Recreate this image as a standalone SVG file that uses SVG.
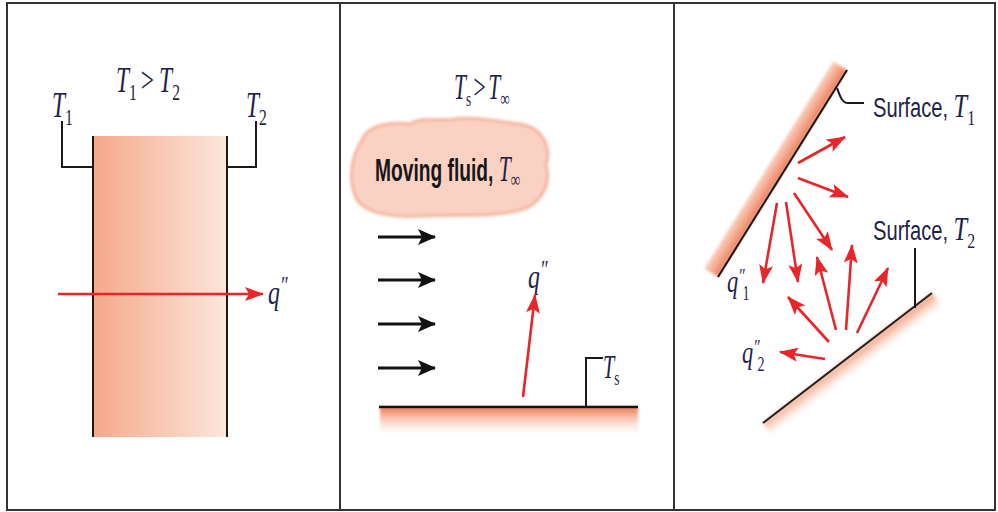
<svg xmlns="http://www.w3.org/2000/svg" width="998" height="512" viewBox="0 0 998 512">
<style>
.frame{fill:none;stroke:#333;stroke-width:2}
.blk{fill:none;stroke:#1a1a1a;stroke-width:2}
.red{fill:none;stroke:#E8262A;stroke-width:2.6}
.flow{fill:none;stroke:#111;stroke-width:3}
.lbl{font-family:"Liberation Serif",serif;font-style:italic;fill:#1f2347}
.sans{font-family:"Liberation Sans",Arial,sans-serif;fill:#1f2347}
.bold{font-family:"Liberation Sans",Arial,sans-serif;font-weight:bold;fill:#161616}
.sub{font-style:normal}
</style>
<defs>
<linearGradient id="slab" x1="0" y1="0" x2="1" y2="0">
<stop offset="0" stop-color="#F6A88A"/>
<stop offset="1" stop-color="#FBE7DC"/>
</linearGradient>
<linearGradient id="floor" x1="0" y1="0" x2="0" y2="1">
<stop offset="0" stop-color="#EF7447"/>
<stop offset="1" stop-color="#FBD9CC" stop-opacity="0"/>
</linearGradient>
<linearGradient id="up" gradientUnits="userSpaceOnUse" x1="782.5" y1="173.5" x2="767.2" y2="164">
<stop offset="0" stop-color="#EE7A55"/>
<stop offset="1" stop-color="#F8B9A2" stop-opacity="0.6"/>
</linearGradient>
<linearGradient id="low" gradientUnits="userSpaceOnUse" x1="847.5" y1="358" x2="858" y2="372">
<stop offset="0" stop-color="#F39A78"/>
<stop offset="1" stop-color="#FCDCCF" stop-opacity="0"/>
</linearGradient>
<filter id="soft" x="-10%" y="-10%" width="120%" height="120%"><feGaussianBlur stdDeviation="1.5"/></filter>
<filter id="soft2" x="-10%" y="-10%" width="120%" height="120%"><feGaussianBlur stdDeviation="2"/></filter>
<marker id="rh" markerUnits="userSpaceOnUse" markerWidth="20" markerHeight="16" refX="18" refY="7" orient="auto">
<path d="M0,0 L19,7 L0,14 L4,7 Z" fill="#E8262A"/>
</marker>
<marker id="bh" markerUnits="userSpaceOnUse" markerWidth="20" markerHeight="18" refX="17" refY="8" orient="auto">
<path d="M0,0 L18,8 L0,16 L4,8 Z" fill="#111"/>
</marker>
</defs>
<rect width="998" height="512" fill="#fff"/>
<g id="frame">
<rect class="frame" x="7" y="3" width="988" height="507"/>
<line class="frame" x1="340" y1="3" x2="340" y2="510"/>
<line class="frame" x1="674" y1="3" x2="674" y2="510"/>
</g>

<!-- Panel 1: conduction -->
<g id="slab">
<rect x="93" y="136" width="134" height="301" fill="url(#slab)"/>
<line class="blk" x1="93" y1="136" x2="93" y2="437"/>
<line class="blk" x1="227" y1="136" x2="227" y2="437"/>
</g>
<g id="t1-label">
<polyline class="blk" points="62,121 62,167 93,167"/>
<text class="lbl" font-size="36" transform="translate(52,117) scale(0.65,1)">T<tspan class="sub" font-size="24" dy="8">1</tspan></text>
</g>
<g id="t2-label">
<polyline class="blk" points="256,121 256,167 227,167"/>
<text class="lbl" font-size="36" transform="translate(246,117) scale(0.65,1)">T<tspan class="sub" font-size="24" dy="8">2</tspan></text>
</g>
<g id="cond-title">
<text class="lbl" font-size="36" transform="translate(116,92) scale(0.65,1)">T<tspan class="sub" font-size="24" dy="8">1</tspan><tspan class="sub" dy="-8" dx="6">&gt;</tspan><tspan dx="8">T</tspan><tspan class="sub" font-size="24" dy="8">2</tspan></text>
</g>
<g id="cond-q">
<text class="lbl" font-size="34" transform="translate(268,304) scale(0.7,1)">q<tspan font-size="26" dy="-10">″</tspan></text>
</g>

<!-- Panel 2: convection -->
<g id="conv-title">
<text class="lbl" font-size="36" transform="translate(454,99) scale(0.6,1)">T<tspan class="sub" font-size="22" dy="7">s</tspan><tspan class="sub" dy="-7" dx="4">&gt;</tspan><tspan dx="4">T</tspan><tspan class="sub" font-size="22" dy="7">∞</tspan></text>
</g>
<g id="cloud">
<path d="M362,140 C368,124 392,122 410,124 C422,116 440,122 455,119 C475,116 500,122 520,124 C545,128 551,150 546,165 C552,185 540,205 520,210 C490,218 450,214 420,216 C390,218 360,212 355,195 C348,178 352,155 362,140 Z" fill="#FAD2C3" stroke="#F5B29C" stroke-width="3" filter="url(#soft)"/>
<text class="bold" font-size="32" transform="translate(375,181) scale(0.6,1)">Moving fluid, <tspan class="lbl" font-weight="normal" font-size="36" fill="#1f2347">T</tspan><tspan class="lbl sub" font-weight="normal" font-size="22" dy="6" fill="#1f2347">∞</tspan></text>
</g>
<g id="surface-conv">
<rect x="380" y="407" width="258" height="28" fill="url(#floor)" filter="url(#soft)"/>
<line x1="379" y1="407" x2="638" y2="407" stroke="#111" stroke-width="2.5"/>
<polyline class="blk" points="586,407 586,358 603,358"/>
<text class="lbl" font-size="34" transform="translate(603,378) scale(0.6,1)">T<tspan class="sub" font-size="22" dy="7">s</tspan></text>
</g>
<g id="conv-q">
<text class="lbl" font-size="34" transform="translate(528,288) scale(0.7,1)">q<tspan font-size="26" dy="-10">″</tspan></text>
</g>

<!-- Panel 3: radiation -->
<g id="surface1">
<polygon points="718,277 847,70 833.4,61.5 704.4,268.5" fill="url(#up)" filter="url(#soft)"/>
<line x1="718" y1="277" x2="847" y2="70" stroke="#111" stroke-width="2"/>
<path class="blk" d="M837,88 C840,96 842,103 848,103 L864,103" stroke="#444"/>
<text class="sans" font-size="28" transform="translate(873,117) scale(0.72,1)">Surface, <tspan class="lbl" font-size="34">T</tspan><tspan class="lbl sub" font-size="22" dy="8">1</tspan></text>
</g>
<g id="surface2">
<polygon points="763,423 932,293 941.8,305.7 772.8,435.7" fill="url(#low)" filter="url(#soft2)"/>
<line x1="763" y1="423" x2="932" y2="293" stroke="#222" stroke-width="2.2"/>
<line class="blk" x1="915" y1="248" x2="915" y2="308"/>
<text class="sans" font-size="28" transform="translate(873,240) scale(0.72,1)">Surface, <tspan class="lbl" font-size="34">T</tspan><tspan class="lbl sub" font-size="22" dy="8">2</tspan></text>
</g>
<g id="rad-labels">
<text class="lbl" font-size="32" transform="translate(727,292) scale(0.7,1)">q<tspan font-size="22" dy="-9">″</tspan><tspan class="sub" font-size="20" dx="-3" dy="17">1</tspan></text>
<text class="lbl" font-size="32" transform="translate(742,363) scale(0.7,1)">q<tspan font-size="22" dy="-9">″</tspan><tspan class="sub" font-size="20" dx="-3" dy="17">2</tspan></text>
</g>

<g id="connectors">
<line class="red" x1="58" y1="294" x2="263" y2="294" marker-end="url(#rh)"/>
<line class="flow" x1="378" y1="237" x2="435" y2="237" marker-end="url(#bh)"/>
<line class="flow" x1="378" y1="280" x2="435" y2="280" marker-end="url(#bh)"/>
<line class="flow" x1="378" y1="324" x2="435" y2="324" marker-end="url(#bh)"/>
<line class="flow" x1="378" y1="368" x2="435" y2="368" marker-end="url(#bh)"/>
<line class="red" x1="523" y1="397" x2="535" y2="295" marker-end="url(#rh)"/>
<line class="red" x1="798" y1="163" x2="845" y2="137" marker-end="url(#rh)"/>
<line class="red" x1="798" y1="178" x2="848" y2="197" marker-end="url(#rh)"/>
<line class="red" x1="794" y1="193" x2="832" y2="250" marker-end="url(#rh)"/>
<line class="red" x1="786" y1="202" x2="798" y2="282" marker-end="url(#rh)"/>
<line class="red" x1="777" y1="203" x2="763" y2="283" marker-end="url(#rh)"/>
<line class="red" x1="836" y1="330" x2="817" y2="257" marker-end="url(#rh)"/>
<line class="red" x1="846" y1="330" x2="852" y2="245" marker-end="url(#rh)"/>
<line class="red" x1="857" y1="333" x2="888" y2="268" marker-end="url(#rh)"/>
<line class="red" x1="829" y1="342" x2="788" y2="297" marker-end="url(#rh)"/>
<line class="red" x1="825" y1="359" x2="780" y2="352" marker-end="url(#rh)"/>
</g>
</svg>
